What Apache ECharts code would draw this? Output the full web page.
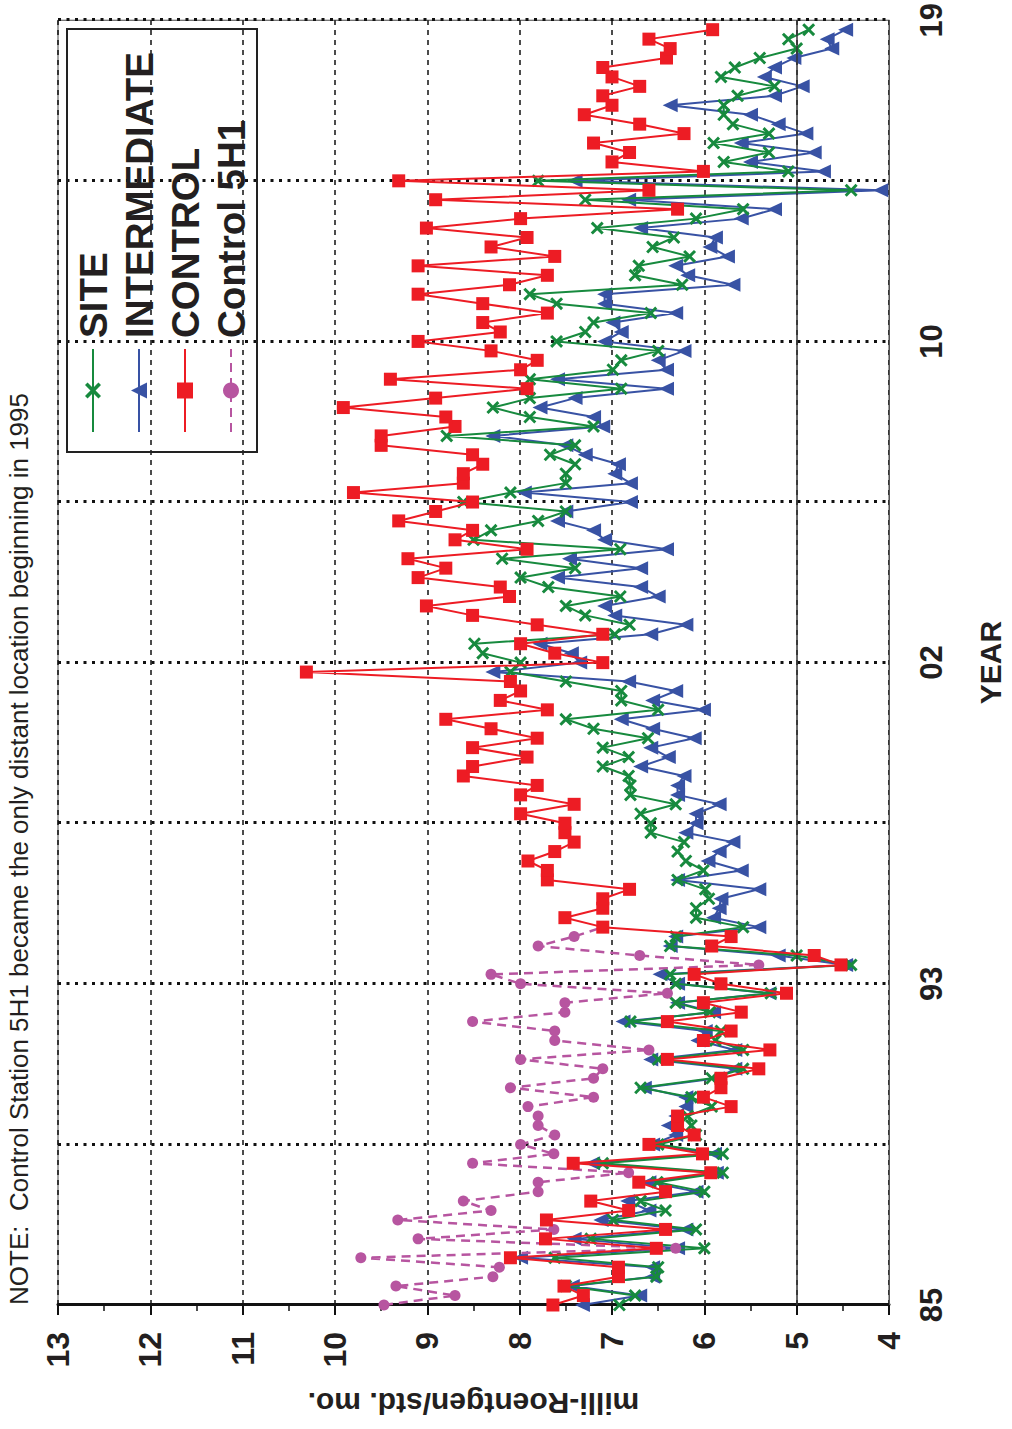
<!DOCTYPE html>
<html>
<head>
<meta charset="utf-8">
<script src="https://cdn.jsdelivr.net/npm/echarts@6/dist/echarts.min.js"></script>
<style>
  html, body { margin: 0; padding: 0; background: #fff; overflow: hidden; }
  #wrap { position: absolute; left: 0; top: 0; width: 1012px; height: 1429px; overflow: hidden; }
  #chart { position: absolute; left: 0; top: 0; width: 1429px; height: 1012px;
           transform-origin: 0 0; transform: translate(0px, 1429px) rotate(-90deg); }
</style>
</head>
<body>
<div id="wrap"><div id="chart"></div></div>
<script>
// ---- data (quarterly samples starting 1985.0) ----
const startYear = 1985;
const yearLabels = ['85', '93', '02', '10', '19'];
const valueTicks = [4, 5, 6, 7, 8, 9, 10, 11, 12, 13];

const site = [
  6.92, 6.75, 7.50, 6.52, 6.50, 7.62, 6.00, 7.23, 6.09, 6.99, 6.42, 6.69, 6.00, 6.51, 5.80, 7.10,
  5.80, 6.50, 6.09, 6.14, 6.18, 5.92, 6.14, 6.69, 5.92, 5.58, 6.50, 5.58, 5.88, 5.82, 6.80, 5.94,
  6.31, 5.28, 6.31, 6.37, 4.41, 5.00, 6.37, 6.31, 5.58, 6.09, 6.09, 5.95, 5.99, 6.29, 6.01, 6.20,
  6.29, 6.22, 6.58, 6.58, 6.69, 6.31, 6.80, 6.80, 6.82, 7.10, 6.82, 7.10, 6.61, 7.20, 7.50, 6.50,
  6.90, 6.90, 7.50, 8.10, 7.99, 8.40, 8.49, 6.97, 6.81, 7.29, 7.50, 6.91, 7.69, 7.99, 7.40, 8.19,
  6.91, 8.50, 8.31, 7.80, 7.50, 8.61, 8.10, 7.50, 7.50, 7.40, 7.67, 7.40, 8.79, 7.20, 7.89, 8.29,
  7.89, 6.90, 7.89, 6.99, 6.90, 6.50, 7.60, 7.29, 7.20, 6.58, 7.60, 7.89, 6.24, 6.75, 6.71, 6.16,
  6.56, 6.33, 7.16, 6.09, 5.58, 7.29, 4.41, 7.80, 5.09, 5.79, 5.30, 5.90, 5.30, 5.69, 5.79, 5.79,
  5.64, 5.24, 5.82, 5.67, 5.40, 5.00, 5.09, 4.87
];
const intermediate = [
  7.32, 6.70, 7.43, 6.56, 6.56, 7.99, 6.29, 7.41, 6.20, 7.12, 6.60, 6.83, 6.09, 6.60, 5.87, 7.21,
  5.89, 6.56, 6.31, 6.39, 6.31, 6.20, 6.20, 6.65, 5.86, 5.67, 6.58, 5.67, 6.07, 5.99, 6.88, 5.90,
  6.29, 5.30, 6.29, 6.48, 4.47, 5.20, 6.37, 6.31, 5.41, 5.90, 5.84, 5.82, 5.41, 6.29, 5.60, 5.96,
  5.84, 5.69, 6.20, 6.09, 6.09, 5.84, 6.29, 6.29, 6.22, 6.69, 6.39, 6.58, 6.11, 6.56, 6.90, 6.01,
  6.56, 6.31, 6.82, 8.29, 7.35, 7.44, 7.78, 6.58, 6.20, 6.97, 7.08, 6.50, 6.69, 7.59, 6.69, 7.46,
  6.41, 7.08, 7.20, 7.59, 7.50, 6.80, 7.95, 6.80, 6.97, 6.93, 7.29, 7.50, 8.29, 7.10, 7.20, 7.78,
  7.40, 6.41, 7.59, 6.41, 6.50, 6.22, 7.08, 6.90, 6.99, 6.31, 7.08, 7.08, 5.69, 6.18, 6.31, 5.75,
  5.94, 5.88, 6.69, 5.60, 5.24, 6.82, 4.09, 7.40, 4.71, 5.50, 4.81, 5.60, 4.90, 5.20, 5.50, 6.37,
  5.24, 4.94, 5.35, 5.24, 5.03, 4.62, 4.67, 4.47
];
const control = [
  7.64, 7.31, 7.52, 6.93, 6.93, 8.10, 6.52, 7.72, 6.42, 7.71, 6.82, 7.23, 6.42, 6.71, 5.93, 7.42,
  6.02, 6.60, 6.11, 6.29, 6.29, 5.71, 6.01, 5.82, 5.82, 5.41, 6.40, 5.29, 6.01, 5.71, 6.40, 5.60,
  6.01, 5.11, 5.82, 6.11, 4.52, 4.81, 5.92, 5.71, 7.10, 7.51, 7.10, 7.10, 6.81, 7.70, 7.70, 7.91,
  7.62, 7.41, 7.51, 7.51, 7.99, 7.41, 7.99, 7.81, 8.61, 8.51, 7.92, 8.51, 7.81, 8.31, 8.80, 7.70,
  8.21, 7.99, 8.10, 10.31, 7.10, 7.62, 7.99, 7.10, 7.81, 8.51, 9.01, 8.11, 8.21, 9.10, 8.80, 9.21,
  7.92, 8.70, 8.51, 9.31, 8.91, 8.51, 9.80, 8.61, 8.61, 8.40, 8.51, 9.50, 9.50, 8.70, 8.80, 9.91,
  8.91, 7.92, 9.40, 7.99, 7.81, 8.31, 9.10, 8.21, 8.40, 7.70, 8.40, 9.10, 8.11, 7.70, 9.10, 7.62,
  8.31, 7.92, 9.01, 7.99, 6.29, 8.91, 6.60, 9.31, 6.01, 7.00, 6.81, 7.20, 6.22, 6.70, 7.30, 7.00,
  7.10, 6.70, 7.00, 7.10, 6.41, 6.37, 6.60, 5.91
];
const control5H1 = [
  9.47, 8.70, 9.34, 8.29, 8.22, 9.72, 6.31, 9.10, 7.63, 9.32, 8.31, 8.61, 7.80, 7.80, 6.82, 8.51,
  7.63, 7.99, 7.62, 7.80, 7.80, 7.91, 7.20, 8.10, 7.20, 7.10, 7.99, 6.60, 7.62, 7.62, 8.51, 7.51,
  7.51, 6.40, 7.99, 8.31, 5.41, 6.70, 7.80, 7.41, 7.10
];

// ---- styling ----
const FONT = "'Liberation Sans', Arial, Helvetica, sans-serif";
const INK = '#231f20';
const GREEN = '#178a3e', BLUE = '#3852a4', RED = '#ed1c24', PURPLE = '#b755a0';
const XSYM = 'path://M0,1.6L1.6,0L5,3.4L8.4,0L10,1.6L6.6,5L10,8.4L8.4,10L5,6.6L1.6,10L0,8.4L3.4,5Z';

function pts(arr) { return arr.map((v, i) => [i * 0.25, v]); }

const chart = echarts.init(document.getElementById('chart'), null, { renderer: 'svg', width: 1429, height: 1012 });

const option = {
  backgroundColor: '#ffffff',
  animation: false,
  textStyle: { fontFamily: FONT, color: INK },
  grid: { left: 124, top: 58, width: 1288, height: 831, show: true, borderColor: '#444', borderWidth: 1, containLabel: false },
  graphic: [{
    type: 'text', left: 124, top: 6,
    style: { text: 'NOTE:  Control Station 5H1 became the only distant location beginning in 1995',
             font: "26px " + FONT, fill: INK }
  }],
  legend: {
    orient: 'vertical', left: 977, top: 67,
    data: ['SITE', 'INTERMEDIATE', 'CONTROL', 'Control 5H1'],
    itemWidth: 83, itemHeight: 20, itemGap: 6,
    padding: [6, 23, 6, 19],
    borderColor: '#222', borderWidth: 2,
    textStyle: { fontSize: 38.5, fontWeight: 'bold', fontFamily: FONT, color: INK, lineHeight: 40, padding: [0, 0, 0, 6] }
  },
  xAxis: {
    type: 'value', min: 0, max: 34, interval: 4.25,
    name: 'YEAR', nameLocation: 'middle', nameGap: 86,
    nameTextStyle: { fontSize: 30, fontWeight: 'bold', fontFamily: FONT, color: INK },
    axisLine: { show: true, onZero: false, lineStyle: { color: '#555', width: 1 } },
    axisTick: { show: false },
    axisLabel: {
      margin: 27, fontSize: 31, fontWeight: 'bold', fontFamily: FONT, color: INK,
      formatter: function (v) {
        const idx = Math.round(v / 4.25);
        if (idx % 2) return '';
        return yearLabels[idx / 2];
      }
    },
    splitLine: { show: true, lineStyle: { color: '#111', width: 3, type: [3, 5.5] } }
  },
  yAxis: {
    type: 'value', min: valueTicks[0], max: valueTicks[valueTicks.length - 1], interval: 1,
    name: 'milli-Roentgen/std. mo.', nameLocation: 'middle', nameGap: 83, nameRotate: 90,
    nameTextStyle: { fontSize: 30, fontWeight: 'bold', fontFamily: FONT, color: INK },
    axisLine: { show: true, lineStyle: { color: '#111', width: 3 } },
    axisTick: { show: true, length: 10, lineStyle: { color: '#111', width: 2 } },
    minorTick: { show: true, splitNumber: 2, length: 6, lineStyle: { color: '#111', width: 1.5 } },
    axisLabel: { margin: 27, fontSize: 32, fontWeight: 'bold', fontFamily: FONT, color: INK },
    splitLine: { show: true, lineStyle: { color: '#111', width: 1.5, type: [5, 5] } }
  },
  series: [
    {
      name: 'SITE', type: 'line', z: 3, data: pts(site),
      symbol: XSYM, symbolSize: 13,
      lineStyle: { color: GREEN, width: 2 }, itemStyle: { color: GREEN },
      markLine: {
        silent: true, symbol: 'none', label: { show: false },
        lineStyle: { color: '#333', width: 1.5, type: 'solid' },
        data: [{ yAxis: 5 }]
      }
    },
    {
      name: 'INTERMEDIATE', type: 'line', z: 2, data: pts(intermediate),
      symbol: 'triangle', symbolSize: [14, 15],
      lineStyle: { color: BLUE, width: 2 }, itemStyle: { color: BLUE }
    },
    {
      name: 'Control 5H1', type: 'line', z: 4, data: pts(control5H1),
      symbol: 'circle', symbolSize: 11,
      lineStyle: { color: PURPLE, width: 2.5, type: [9, 6] }, itemStyle: { color: PURPLE }
    },
    {
      name: 'CONTROL', type: 'line', z: 5, data: pts(control),
      symbol: 'rect', symbolSize: 13,
      lineStyle: { color: RED, width: 2 }, itemStyle: { color: RED }
    }
  ]
};
chart.setOption(option);
</script>
</body>
</html>
